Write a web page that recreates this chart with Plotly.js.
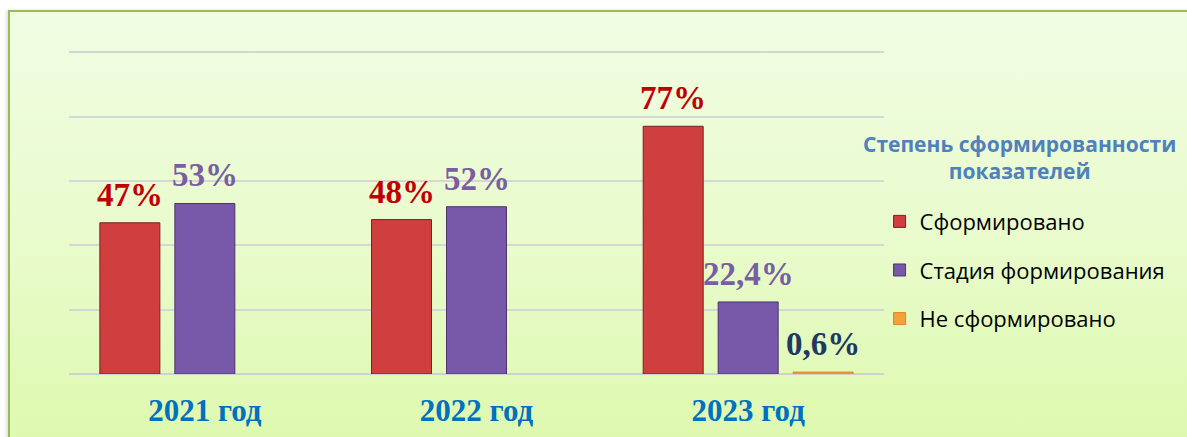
<!DOCTYPE html>
<html><head><meta charset="utf-8">
<script src="https://cdn.plot.ly/plotly-3.0.1.min.js"></script>
<style>
html,body{margin:0;padding:0;background:#fff;width:1187px;height:437px;overflow:hidden;}
#frame{position:absolute;left:8px;top:10px;width:1200px;height:440px;border:2px solid #9bbb59;
background:linear-gradient(to bottom,#f1fde3 0%,#e9fbcd 50%,#ddf9ad 100%);box-shadow:-2px 0 3px rgba(0,0,0,0.12);}
#chart{position:absolute;left:0;top:0;width:1187px;height:437px;}
</style></head><body>
<div id="frame"></div>
<div id="chart"></div>
<script>
const categories = ["2021 год", "2022 год", "2023 год"];
const seriesNames = ["Сформировано", "Стадия формирования", "Не сформировано"];
const formed = [47, 48, 77];
const forming = [53, 52, 22.4];
const notFormed = [null, null, 0.6];
const formedLabels = ["47%", "48%", "77%"];
const formingLabels = ["53%", "52%", "22,4%"];
const notFormedLabels = ["", "", "0,6%"];
const legendTitle = "Степень сформированности<br>показателей";

const series = [
  {name:seriesNames[0], y:formed, labels:formedLabels, color:'#d03f3f', line:'#7d1f1f', txt:'#c00000', shift:-75},
  {name:seriesNames[1], y:forming, labels:formingLabels, color:'#7858a8', line:'#4a3570', txt:'#7a5ea3', shift:0},
  {name:seriesNames[2], y:notFormed, labels:notFormedLabels, color:'#f2a23a', line:'#d88a20', txt:'#1f3864', shift:75}
];
const data = series.map(s => ({type:'bar', name:s.name, x:categories, y:s.y, legendgroup:s.name,
  marker:{color:s.color, line:{color:s.line, width:1}}, hoverinfo:'skip'}));

const annotations = [];
series.forEach(s => {
  categories.forEach((c, i) => {
    if (s.y[i] == null || !s.labels[i]) return;
    annotations.push({xref:'x', yref:'y', x:c, y:s.y[i], xshift:s.shift, yshift:8,
      xanchor:'center', yanchor:'bottom', showarrow:false, text:'<b>' + s.labels[i] + '</b>',
      font:{family:'"Liberation Serif", "Times New Roman", serif', size:33, color:s.txt}});
  });
});
annotations.push({xref:'paper', yref:'paper', x:1.166, y:0.669, xanchor:'center', yanchor:'middle',
  showarrow:false, text:'<b>' + legendTitle + '</b>', align:'center',
  font:{family:'"Open Sans", "Noto Sans", sans-serif', size:21, color:'#4f81bd'}});

const layout = {
  width:1187, height:437,
  margin:{l:69, r:303, t:51, b:63, autoexpand:false},
  paper_bgcolor:'rgba(0,0,0,0)', plot_bgcolor:'rgba(0,0,0,0)',
  barmode:'group', bargap:0.172, bargroupgap:0.2,
  showlegend:true,
  annotations:annotations,
  xaxis:{tickfont:{family:'"Liberation Serif", "Times New Roman", serif', size:31, color:'#0070c0', weight:'bold'},
    showline:false, ticks:'', showgrid:false, fixedrange:true, ticklabelstandoff:15},
  yaxis:{range:[0,100.4], tickvals:[0,20,40,60,80,100], showticklabels:false, gridcolor:'#d6d6d6', gridwidth:2,
    zeroline:true, zerolinecolor:'#d0d0d0', zerolinewidth:2, showline:false, ticks:'', fixedrange:true},
  legend:{xref:'container', yref:'container', x:0.741, y:0.541, xanchor:'left', yanchor:'top',
    bgcolor:'rgba(0,0,0,0)', traceorder:'grouped', tracegroupgap:17,
    font:{family:'"Open Sans", "Noto Sans", sans-serif', size:22, color:'#000'}}
};
Plotly.newPlot('chart', data, layout, {displayModeBar:false, staticPlot:true});
</script></body></html>
